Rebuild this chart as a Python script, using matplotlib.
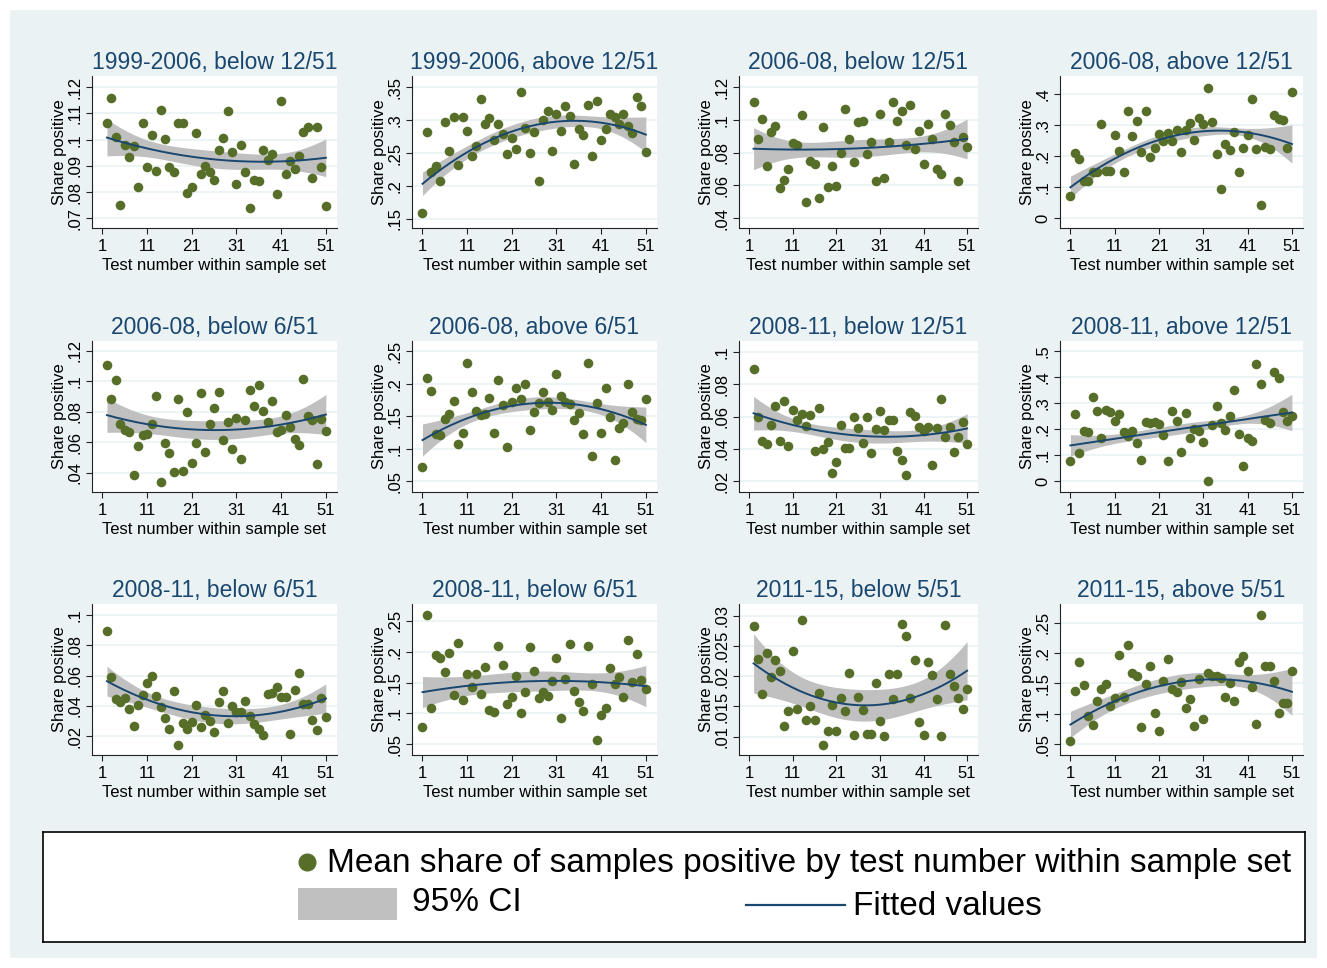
import numpy as np
import matplotlib
matplotlib.use("Agg")
import matplotlib.pyplot as plt
from matplotlib.patches import Rectangle
from matplotlib.lines import Line2D

plt.rcParams['font.family'] = ['Liberation Sans', 'DejaVu Sans']

# ------------------------------- data
titles = ['1999-2006, below 12/51', '1999-2006, above 12/51', '2006-08, below 12/51', '2006-08, above 12/51',
          '2006-08, below 6/51', '2006-08, above 6/51', '2008-11, below 12/51', '2008-11, above 12/51',
          '2008-11, below 6/51', '2008-11, below 6/51', '2011-15, below 5/51', '2011-15, above 5/51']

# first test number shown in each panel (last one is always 51)
x_start = [2, 1, 2, 1, 2, 1, 2, 1, 2, 1, 2, 1]
x_end = 51

y1 = [0.1064, 0.1159, 0.1011, 0.0749, 0.0980, 0.0933, 0.0976, 0.0820, 0.1062, 0.0894,
      0.1016, 0.0880, 0.1114, 0.1004, 0.0894, 0.0876, 0.1062, 0.1064, 0.0798, 0.0819,
      0.1025, 0.0870, 0.0898, 0.0876, 0.0848, 0.0960, 0.1007, 0.1108, 0.0954, 0.0832,
      0.0978, 0.0877, 0.0741, 0.0847, 0.0843, 0.0960, 0.0924, 0.0947, 0.0791, 0.1149,
      0.0869, 0.0920, 0.0889, 0.0939, 0.1029, 0.1047, 0.0855, 0.1050, 0.0897, 0.0747]
y2 = [0.1582, 0.2827, 0.2204, 0.2296, 0.2066, 0.2969, 0.2531, 0.3051, 0.2321, 0.3051,
      0.2832, 0.2459, 0.2612, 0.3327, 0.2939, 0.3036, 0.2694, 0.2944, 0.2791, 0.2490,
      0.2724, 0.2561, 0.3429, 0.2878, 0.2505, 0.2821, 0.2066, 0.3005, 0.3143, 0.2531,
      0.3087, 0.2842, 0.3209, 0.3071, 0.2332, 0.2872, 0.2776, 0.3224, 0.2449, 0.3296,
      0.2694, 0.2867, 0.3087, 0.3041, 0.2949, 0.3092, 0.2908, 0.2801, 0.3357, 0.3214, 0.2515]
y3 = [0.1110, 0.0882, 0.1006, 0.0716, 0.0927, 0.0965, 0.0584, 0.0635, 0.0698, 0.0859,
      0.0845, 0.1033, 0.0498, 0.0751, 0.0733, 0.0520, 0.0957, 0.0592, 0.0720, 0.0598,
      0.0796, 0.1069, 0.0886, 0.0743, 0.0988, 0.0996, 0.0794, 0.0865, 0.0624, 0.1035,
      0.0643, 0.0865, 0.1112, 0.0996, 0.1053, 0.0847, 0.1094, 0.0824, 0.0931, 0.0731,
      0.0973, 0.0882, 0.0698, 0.0669, 0.1035, 0.0971, 0.0865, 0.0627, 0.0898, 0.0835]
y4 = [0.0712, 0.2092, 0.1898, 0.1208, 0.1208, 0.1477, 0.1477, 0.3030, 0.1531, 0.1531,
      0.2695, 0.2178, 0.1499, 0.3450, 0.2663, 0.3148, 0.2135, 0.3450, 0.1984, 0.2264,
      0.2728, 0.2501, 0.2760, 0.2501, 0.2857, 0.2146, 0.2846, 0.3062, 0.2512, 0.3224,
      0.3040, 0.4216, 0.3094, 0.2070, 0.0949, 0.2394, 0.2189, 0.2792, 0.1488, 0.2275,
      0.2685, 0.3838, 0.2221, 0.0410, 0.2307, 0.2243, 0.3332, 0.3191, 0.3170, 0.2275, 0.4075]
y5 = [0.1106, 0.0881, 0.1005, 0.0717, 0.0680, 0.0667, 0.0385, 0.0575, 0.0651, 0.0656,
      0.0717, 0.0905, 0.0341, 0.0597, 0.0531, 0.0407, 0.0881, 0.0413, 0.0798, 0.0466,
      0.0595, 0.0925, 0.0538, 0.0723, 0.0826, 0.0927, 0.0614, 0.0732, 0.0555, 0.0761,
      0.0494, 0.0743, 0.0940, 0.0839, 0.0973, 0.0804, 0.0730, 0.0872, 0.0669, 0.0680,
      0.0776, 0.0702, 0.0619, 0.0584, 0.1014, 0.0774, 0.0743, 0.0457, 0.0754, 0.0671]
y6 = [0.0724, 0.2082, 0.1893, 0.1220, 0.1214, 0.1454, 0.1531, 0.1735, 0.1066, 0.1235,
      0.2316, 0.1867, 0.1577, 0.1515, 0.1541, 0.1776, 0.1245, 0.2051, 0.1668, 0.1020,
      0.1724, 0.1939, 0.1765, 0.2000, 0.1291, 0.1566, 0.1704, 0.1867, 0.1724, 0.1602,
      0.2153, 0.1816, 0.1724, 0.1689, 0.1444, 0.1546, 0.1224, 0.2316, 0.0888, 0.1704,
      0.1235, 0.1929, 0.1480, 0.0832, 0.1311, 0.1388, 0.2000, 0.1571, 0.1449, 0.1444, 0.1765]
y7 = [0.0895, 0.0596, 0.0446, 0.0430, 0.0549, 0.0662, 0.0446, 0.0696, 0.0417, 0.0639,
      0.0580, 0.0618, 0.0540, 0.0608, 0.0389, 0.0651, 0.0397, 0.0442, 0.0253, 0.0319,
      0.0547, 0.0405, 0.0405, 0.0596, 0.0532, 0.0434, 0.0594, 0.0372, 0.0524, 0.0637,
      0.0516, 0.0580, 0.0580, 0.0389, 0.0329, 0.0239, 0.0629, 0.0602, 0.0536, 0.0508,
      0.0536, 0.0298, 0.0532, 0.0709, 0.0475, 0.0536, 0.0380, 0.0471, 0.0567, 0.0432]
y8 = [0.0793, 0.2596, 0.1100, 0.1944, 0.1893, 0.3235, 0.2711, 0.1662, 0.2737, 0.2685,
      0.2327, 0.2583, 0.1905, 0.1726, 0.1918, 0.1470, 0.0831, 0.2276, 0.2238, 0.2276,
      0.2200, 0.1765, 0.0780, 0.2698, 0.2315, 0.1113, 0.2609, 0.1662, 0.2020, 0.1918,
      0.1496, 0.0000, 0.2174, 0.2916, 0.2225, 0.1982, 0.2494, 0.3504, 0.1816, 0.0588,
      0.1662, 0.1560, 0.4501, 0.3734, 0.2340, 0.2238, 0.4194, 0.3990, 0.2660, 0.2327, 0.2506]
y9 = [0.0892, 0.0593, 0.0448, 0.0424, 0.0453, 0.0382, 0.0264, 0.0404, 0.0470, 0.0554,
      0.0596, 0.0462, 0.0391, 0.0321, 0.0244, 0.0501, 0.0141, 0.0284, 0.0246, 0.0290,
      0.0404, 0.0259, 0.0338, 0.0299, 0.0226, 0.0422, 0.0501, 0.0288, 0.0396, 0.0358,
      0.0360, 0.0435, 0.0330, 0.0277, 0.0244, 0.0207, 0.0481, 0.0484, 0.0523, 0.0457,
      0.0457, 0.0211, 0.0505, 0.0615, 0.0409, 0.0409, 0.0308, 0.0237, 0.0453, 0.0325]
y10 = [0.0785, 0.2597, 0.1086, 0.1941, 0.1898, 0.1677, 0.1984, 0.1301, 0.2134, 0.1210,
       0.1640, 0.1425, 0.1640, 0.1317, 0.1753, 0.1059, 0.1027, 0.2091, 0.1790, 0.1151,
       0.1269, 0.1597, 0.1011, 0.1349, 0.2070, 0.1683, 0.1242, 0.1339, 0.1285, 0.1522,
       0.1892, 0.0925, 0.1554, 0.2124, 0.1355, 0.1188, 0.1038, 0.2091, 0.1468, 0.0565,
       0.0973, 0.1081, 0.1731, 0.1468, 0.1586, 0.1263, 0.2188, 0.1511, 0.1968, 0.1543, 0.1403]
y11 = [0.0283, 0.0229, 0.0170, 0.0238, 0.0199, 0.0226, 0.0208, 0.0117, 0.0143, 0.0242,
       0.0146, 0.0293, 0.0127, 0.0150, 0.0128, 0.0173, 0.0087, 0.0109, 0.0153, 0.0109,
       0.0164, 0.0143, 0.0206, 0.0103, 0.0166, 0.0145, 0.0104, 0.0104, 0.0188, 0.0126,
       0.0102, 0.0204, 0.0162, 0.0204, 0.0286, 0.0267, 0.0164, 0.0227, 0.0124, 0.0103,
       0.0223, 0.0202, 0.0162, 0.0102, 0.0285, 0.0204, 0.0184, 0.0164, 0.0146, 0.0179]
y12 = [0.0549, 0.1380, 0.1861, 0.1478, 0.0964, 0.0822, 0.1216, 0.1407, 0.1484, 0.1128,
       0.1260, 0.1964, 0.1281, 0.2139, 0.1669, 0.1631, 0.0784, 0.1489, 0.1790, 0.1008,
       0.0713, 0.1544, 0.1910, 0.1402, 0.1358, 0.1527, 0.1090, 0.1249, 0.0800, 0.1577,
       0.0921, 0.1675, 0.1631, 0.1620, 0.1587, 0.1281, 0.1500, 0.1216, 0.1861, 0.1959,
       0.1702, 0.1434, 0.0833, 0.2626, 0.1795, 0.1795, 0.1544, 0.1008, 0.1183, 0.1183, 0.1708]
series = [y1, y2, y3, y4, y5, y6, y7, y8, y9, y10, y11, y12]

# quadratic fitted values (first test, middle test, test 51) and 95% CI half widths
fit_first = [0.1008, 0.2030, 0.0824, 0.0992, 0.0778, 0.1133, 0.0620, 0.1381, 0.0563, 0.1344, 0.0221, 0.0822]
fit_mid = [0.0924, 0.2923, 0.0827, 0.2706, 0.0680, 0.1699, 0.0481, 0.2020, 0.0336, 0.1522, 0.0152, 0.1527]
fit_last = [0.0931, 0.2780, 0.0884, 0.2393, 0.0782, 0.1367, 0.0526, 0.2647, 0.0448, 0.1441, 0.0209, 0.1363]
ci_first = [0.0070, 0.0179, 0.0129, 0.0361, 0.0113, 0.0247, 0.0104, 0.0416, 0.0099, 0.0253, 0.0049, 0.0219]
ci_mid = [0.0033, 0.0102, 0.0053, 0.0162, 0.0061, 0.0094, 0.0041, 0.0192, 0.0051, 0.0161, 0.0026, 0.0128]
ci_last = [0.0072, 0.0268, 0.0122, 0.0620, 0.0131, 0.0273, 0.0091, 0.0703, 0.0097, 0.0333, 0.0048, 0.0388]

# y ticks (start, stop, step) and y ranges per panel
y_ticks = [(0.07, 0.12, 0.01), (0.15, 0.35, 0.05), (0.04, 0.12, 0.02), (0.0, 0.4, 0.1),
           (0.04, 0.12, 0.02), (0.05, 0.25, 0.05), (0.02, 0.10, 0.02), (0.0, 0.5, 0.1),
           (0.02, 0.10, 0.02), (0.05, 0.25, 0.05), (0.01, 0.03, 0.005), (0.05, 0.25, 0.05)]
y_lims = [(0.0663, 0.1243), (0.1357, 0.3673), (0.0339, 0.1269), (-0.0323, 0.4593),
          (0.0275, 0.1263), (0.0337, 0.2653), (0.0134, 0.1066), (-0.0409, 0.5396),
          (0.0075, 0.1073), (0.0328, 0.2769), (0.0070, 0.0319), (0.0320, 0.2811)]
x_ticks = [1, 11, 21, 31, 41, 51]

# ------------------------------- styling
W, H = 1327, 968
BG = '#EAF2F3'
NAVY = '#1A476F'
GREEN = '#566E28'
BAND = '#C0C0C0'

col_x = [(92, 337), (412, 657), (739, 978), (1060, 1303)]
row_y = [(76, 228), (341, 492), (604, 755)]


def fmt(v):
    s = f'{v:g}'
    if s.startswith('0.'):
        s = s[1:]
    return s


def qfit_band(i):
    xs = x_start[i]
    xm = (xs + x_end) / 2
    xg = np.linspace(xs, x_end, 200)
    coef = np.polyfit([xs, xm, x_end], [fit_first[i], fit_mid[i], fit_last[i]], 2)
    fit = np.polyval(coef, xg)

    # shape of the standard error of a quadratic fit over the test numbers
    x = np.arange(xs, x_end + 1).astype(float)
    X = np.column_stack([np.ones_like(x), x, x ** 2])
    inv = np.linalg.inv(X.T @ X)

    def se(v):
        g = np.column_stack([np.ones_like(v), v, v ** 2])
        return np.sqrt(np.einsum('ij,jk,ik->i', g, inv, g))

    s_mid = se(np.array([xm]))[0]
    shape = se(xg) / s_mid
    e0 = se(np.array([float(xs)]))[0] / s_mid - 1
    e1 = se(np.array([float(x_end)]))[0] / s_mid - 1
    k = np.where(xg < xm, (ci_first[i] / ci_mid[i] - 1) / e0, (ci_last[i] / ci_mid[i] - 1) / e1)
    hw = ci_mid[i] * (1 + (shape - 1) * k)
    return xg, fit, fit - hw, fit + hw


fig = plt.figure(figsize=(W / 100, H / 100), dpi=100)
fig.patch.set_facecolor('white')
fig.add_artist(Rectangle((10 / W, 1 - 958 / H), 1307 / W, 948 / H, transform=fig.transFigure,
                         facecolor=BG, edgecolor='none', zorder=-10))

for i, ys in enumerate(series):
    r, c = divmod(i, 4)
    x0, x1 = col_x[c]
    yt, yb = row_y[r]
    ax = fig.add_axes([x0 / W, 1 - yb / H, (x1 - x0) / W, (yb - yt) / H])
    ax.set_facecolor('white')

    y = np.array(ys)
    x = np.arange(x_start[i], x_start[i] + len(y))
    xg, fit, lo, hi = qfit_band(i)

    ax.fill_between(xg, lo, hi, color=BAND, lw=0, zorder=2)
    ax.scatter(x, y, s=48, color=GREEN, lw=0, zorder=3)
    ax.plot(xg, fit, color=NAVY, lw=1.4, zorder=4)

    t0, t1, st = y_ticks[i]
    ticks = np.round(np.arange(t0, t1 + st / 2, st), 4)
    ax.set_yticks(ticks)
    ax.set_yticklabels([fmt(t) for t in ticks], rotation=90, va='center')
    ax.set_ylim(*y_lims[i])
    ax.set_xticks(x_ticks)
    ax.set_xlim(-1.35, 53.5)
    ax.grid(axis='y', color=BG, lw=1.2, zorder=0)
    ax.set_axisbelow(True)

    for s in ['top', 'right']:
        ax.spines[s].set_visible(False)
    for s in ['left', 'bottom']:
        ax.spines[s].set_color('#222222')
        ax.spines[s].set_linewidth(0.8)
    ax.tick_params(labelsize=12, length=4, width=0.8, color='#222222', pad=3)
    ax.tick_params(axis='x', pad=4)

    ax.set_title(titles[i], fontsize=16.5, color=NAVY, pad=5)
    ax.set_ylabel('Share positive', fontsize=12, labelpad=0)
    ax.set_xlabel('Test number within sample set', fontsize=12, labelpad=3)

# ------------------------------- legend box
lg = fig.add_axes([43 / W, 1 - 942 / H, 1262 / W, 110 / H])
lg.set_xlim(43, 1305)
lg.set_ylim(942, 832)
lg.set_xticks([])
lg.set_yticks([])
lg.set_facecolor('white')
for s in lg.spines.values():
    s.set_color('black')
    s.set_linewidth(1.2)
lg.add_line(Line2D([307], [862], marker='o', markersize=12, color=GREEN, lw=0))
lg.text(327, 863, 'Mean share of samples positive by test number within sample set',
        fontsize=24, va='center', ha='left')
lg.add_patch(Rectangle((298, 888), 99, 32, facecolor=BAND, edgecolor='none'))
lg.text(412, 902, '95% CI', fontsize=24, va='center', ha='left')
lg.add_line(Line2D([746, 845], [905, 905], color=NAVY, lw=1.6))
lg.text(853, 906, 'Fitted values', fontsize=24, va='center', ha='left')

fig.savefig('out.png', dpi=100)
